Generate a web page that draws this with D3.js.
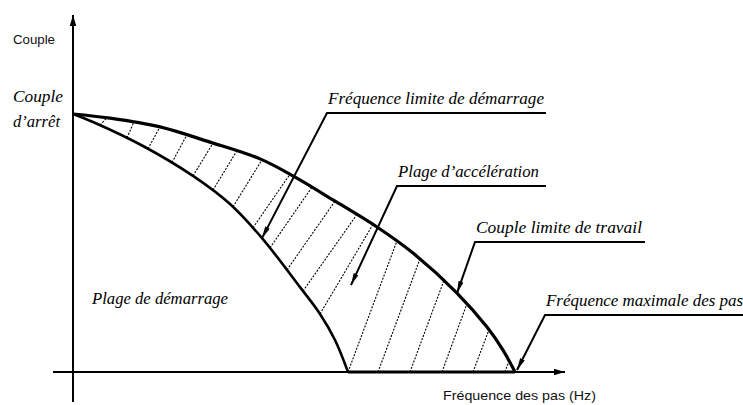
<!DOCTYPE html>
<html><head><meta charset="utf-8">
<script src="https://cdn.jsdelivr.net/npm/d3@7"></script>
<style>html,body{margin:0;padding:0;background:#fff;} svg{display:block;}</style>
</head><body>
<svg id="c" width="743" height="405"></svg>
<script>
// ---- data (arbitrary units: frequency 0..100, torque 0..100) ----
const travailX = [0, 7.4, 17.4, 27.4, 37.4, 44, 52, 60.8, 68, 76.8, 82.8, 86, 88.4];
const travailY = [100, 98.4, 95, 89.1, 82.6, 76, 66.7, 56.2, 46.1, 30.6, 17.4, 8.5, 0];
const demarrageX = [0, 4, 14, 24, 31.4, 37.8, 45.4, 49.4, 52.4, 55];
const demarrageY = [100, 96.9, 87.6, 76.0, 65.1, 51.9, 32.9, 22.5, 12.4, 0];
const hatchFrom = [5.4, 10.8, 15, 19.8, 24, 28, 32, 36, 39.4, 42.8, 46, 49.4, 55, 61, 67.4, 73.8, 80, 86.4];
const hatchTo   = [6.8, 12.2, 17.4, 22.8, 28, 32.8, 37.8, 43.4, 47.8, 52.4, 56.8, 60, 64.8, 69.4, 74.2, 78.8, 83.2, 87.2];
const annotationLabels = ["Fréquence limite de démarrage", "Plage d’accélération", "Couple limite de travail", "Fréquence maximale des pas"];
const regionLabel = "Plage de démarrage";
const stallLabel = ["Couple", "d’arrêt"];
const yAxisLabel = "Couple";
const xAxisLabel = "Fréquence des pas (Hz)";

// ---- drawing ----
const svg = d3.select("#c");
const x = d3.scaleLinear().domain([0, 100]).range([73, 573]);
const y = d3.scaleLinear().domain([0, 100]).range([372, 114]);

const defs = svg.append("defs");
function marker(id, len, half) {
  defs.append("marker").attr("id", id)
    .attr("markerUnits", "userSpaceOnUse")
    .attr("viewBox", `0 0 ${len} ${half*2}`)
    .attr("markerWidth", len).attr("markerHeight", half*2)
    .attr("refX", len).attr("refY", half)
    .attr("orient", "auto")
    .append("path").attr("d", `M0,0 L${len},${half} L0,${half*2} Z`).attr("fill", "#000");
}
marker("arr", 12, 2.6);
marker("axarr", 11, 3.2);

const line = d3.line().x(d => x(d[0])).y(d => y(d[1])).curve(d3.curveCatmullRom.alpha(0.5));
const travail = d3.zip(travailX, travailY);
const demarrage = d3.zip(demarrageX, demarrageY);

// helper path nodes for y lookup
const gHelp = svg.append("g").attr("opacity", 0);
const pT = gHelp.append("path").attr("d", line(travail)).node();
const pD = gHelp.append("path").attr("d", line(demarrage)).node();
function yAt(node, px) {
  let lo = 0, hi = node.getTotalLength();
  for (let i = 0; i < 40; i++) {
    const m = (lo + hi) / 2;
    if (node.getPointAtLength(m).x < px) lo = m; else hi = m;
  }
  return node.getPointAtLength((lo + hi) / 2).y;
}
const lastD = demarrageX[demarrageX.length - 1];

// hatch lines
svg.append("g").selectAll("line").data(d3.zip(hatchFrom, hatchTo)).join("line")
  .attr("x1", d => x(d[0]))
  .attr("y1", d => d[0] >= lastD ? y(0) : yAt(pD, x(d[0])))
  .attr("x2", d => x(d[1]))
  .attr("y2", d => yAt(pT, x(d[1])))
  .attr("stroke", "#000").attr("stroke-width", 1.1).attr("stroke-dasharray", "2,1.4");

// axes
svg.append("line").attr("x1", x(0)).attr("x2", x(0)).attr("y1", y(-11.6)).attr("y2", y(138.4))
  .attr("stroke", "#000").attr("stroke-width", 2).attr("marker-end", "url(#axarr)");
svg.append("line").attr("x1", x(-4)).attr("x2", x(98.4)).attr("y1", y(0)).attr("y2", y(0))
  .attr("stroke", "#000").attr("stroke-width", 2).attr("marker-end", "url(#axarr)");
// bold base of hatched area
svg.append("line").attr("x1", x(lastD)).attr("x2", x(travailX[travailX.length-1])).attr("y1", y(0)).attr("y2", y(0))
  .attr("stroke", "#000").attr("stroke-width", 3.2);

// curves
svg.append("path").attr("d", line(travail)).attr("fill", "none").attr("stroke", "#000").attr("stroke-width", 3.2);
svg.append("path").attr("d", line(demarrage)).attr("fill", "none").attr("stroke", "#000").attr("stroke-width", 2.6);

// annotations: underline left end, underline right end, tip
const tips = [
  [x(37.8), yAt(pD, x(37.8))],
  [x(55.6), y(33.7)],
  [x(76.8), yAt(pT, x(76.8))],
  [x(88.8), y(0.8)]
];
const ann = [
  {x0: 327, x1: 546, yl: 113, tl: 216},
  {x0: 397, x1: 546, yl: 186, tl: 141},
  {x0: 475, x1: 645, yl: 242, tl: 166},
  {x0: 545, x1: 743, yl: 315, tl: 197}
];
ann.forEach((a, i) => {
  svg.append("polyline")
    .attr("points", [[a.x1, a.yl], [a.x0, a.yl], tips[i]].map(p => p.join(",")).join(" "))
    .attr("fill", "none").attr("stroke", "#000").attr("stroke-width", 2)
    .attr("marker-end", "url(#arr)");
  svg.append("text").attr("x", a.x0 + 1).attr("y", a.yl - 9)
    .attr("font-family", "Liberation Serif, serif").attr("font-style", "italic")
    .attr("font-size", 16.5).attr("textLength", a.tl).attr("lengthAdjust", "spacingAndGlyphs")
    .text(annotationLabels[i]);
});

// region label
svg.append("text").attr("x", 92).attr("y", 304)
  .attr("font-family", "Liberation Serif, serif").attr("font-style", "italic")
  .attr("font-size", 16.5).attr("textLength", 136).attr("lengthAdjust", "spacingAndGlyphs")
  .text(regionLabel);

// stall torque label
svg.append("text").attr("x", 13).attr("y", 102)
  .attr("font-family", "Liberation Serif, serif").attr("font-style", "italic")
  .attr("font-size", 17.5).attr("textLength", 50).attr("lengthAdjust", "spacingAndGlyphs")
  .text(stallLabel[0]);
svg.append("text").attr("x", 13).attr("y", 127)
  .attr("font-family", "Liberation Serif, serif").attr("font-style", "italic")
  .attr("font-size", 17.5).attr("textLength", 47).attr("lengthAdjust", "spacingAndGlyphs")
  .text(stallLabel[1]);

// axis labels
svg.append("text").attr("x", 13).attr("y", 44)
  .attr("font-family", "Liberation Sans, Arial, sans-serif").attr("font-size", 13)
  .attr("textLength", 42).attr("lengthAdjust", "spacingAndGlyphs").attr("fill", "#111")
  .text(yAxisLabel);
svg.append("text").attr("x", 443).attr("y", 400)
  .attr("font-family", "Liberation Sans, Arial, sans-serif").attr("font-size", 13)
  .attr("textLength", 153).attr("lengthAdjust", "spacingAndGlyphs").attr("fill", "#111")
  .text(xAxisLabel);
</script>
</body></html>
